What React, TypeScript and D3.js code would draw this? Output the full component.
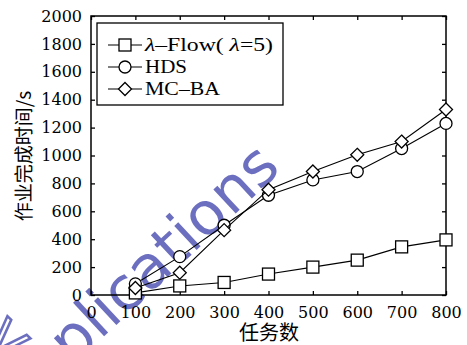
import * as React from 'react';
import * as d3 from 'd3';

const taskCounts = [100, 200, 300, 400, 500, 600, 700, 800];
const flowTimes = [15, 65, 90, 150, 200, 250, 345, 395];
const hdsTimes = [80, 275, 500, 715, 825, 885, 1050, 1230];
const mcbaTimes = [50, 160, 465, 755, 885, 1005, 1100, 1330];
const xTicks = [0, 100, 200, 300, 400, 500, 600, 700, 800];
const yTicks = [0, 200, 400, 600, 800, 1000, 1200, 1400, 1600, 1800, 2000];
const seriesNames = ['λ–Flow( λ=5)', 'HDS', 'MC–BA'];
const seriesShapes = ['square', 'circle', 'diamond'];

const W = 467, H = 345;
const margin = { left: 91, right: 21, top: 16, bottom: 50 };
const numFont = '"DejaVu Serif", serif';
const wmColor = '#5357b4';

function drawMarker(g, shape, x, y) {
    if (shape === 'square') {
        g.append('rect').attr('x', x - 6).attr('y', y - 6).attr('width', 12).attr('height', 12)
            .attr('fill', 'white').attr('stroke', 'black').attr('stroke-width', 1.3);
    } else if (shape === 'circle') {
        g.append('circle').attr('cx', x).attr('cy', y).attr('r', 6)
            .attr('fill', 'white').attr('stroke', 'black').attr('stroke-width', 1.3);
    } else {
        g.append('path').attr('d', `M${x},${y - 6.5}L${x + 6.5},${y}L${x},${y + 6.5}L${x - 6.5},${y}Z`)
            .attr('fill', 'white').attr('stroke', 'black').attr('stroke-width', 1.3);
    }
}

export default function App() {
    const ref = React.useRef<SVGSVGElement>(null);

    React.useEffect(() => {
        const svg = d3.select(ref.current);
        svg.selectAll('*').remove();

        const x = d3.scaleLinear().domain([0, 800]).range([margin.left, W - margin.right]);
        const y = d3.scaleLinear().domain([0, 2000]).range([H - margin.bottom, margin.top]);
        const x0 = x.range()[0], x1 = x.range()[1], y0 = y.range()[0], y1 = y.range()[1];

        // watermark (behind the chart)
        const wm = svg.append('g').attr('transform', 'translate(100,340) rotate(-43)').attr('opacity', 0.85)
            .attr('font-family', '"DejaVu Sans", sans-serif').attr('font-size', 60);
        wm.append('text').attr('x', 0).attr('y', 0).attr('text-anchor', 'end').attr('fill', wmColor).text('Ap');
        wm.append('text').attr('x', 0).attr('y', 0).attr('fill', wmColor).text('lications');
        svg.append('text').attr('transform', 'translate(2,372) rotate(-46)')
            .attr('font-family', '"DejaVu Sans", sans-serif').attr('font-size', 60)
            .attr('fill', 'none').attr('stroke', wmColor).attr('stroke-width', 2.5).attr('opacity', 0.85)
            .text('<');

        // frame
        svg.append('rect').attr('x', x0).attr('y', y1).attr('width', x1 - x0).attr('height', y0 - y1)
            .attr('fill', 'none').attr('stroke', 'black').attr('stroke-width', 1.5);

        const axB = d3.axisBottom(x).tickValues(xTicks).tickSize(-4).tickPadding(12).tickFormat(d3.format('d'));
        const axT = d3.axisTop(x).tickValues(xTicks).tickSize(-4).tickFormat(() => '');
        const axL = d3.axisLeft(y).tickValues(yTicks).tickSize(-4).tickPadding(9).tickFormat(d3.format('d'));
        const axR = d3.axisRight(y).tickValues(yTicks).tickSize(-4).tickFormat(() => '');

        const styleAxis = (g) => {
            g.select('.domain').remove();
            g.selectAll('line').attr('stroke', 'black').attr('stroke-width', 1.3);
            g.selectAll('text').attr('font-family', numFont).attr('font-size', 16).attr('fill', 'black');
        };
        svg.append('g').attr('transform', `translate(0,${y0})`).call(axB).call(styleAxis);
        svg.append('g').attr('transform', `translate(0,${y1})`).call(axT).call(styleAxis);
        svg.append('g').attr('transform', `translate(${x0},0)`).call(axL).call(styleAxis);
        svg.append('g').attr('transform', `translate(${x1},0)`).call(axR).call(styleAxis);

        // series
        const allSeries = [flowTimes, hdsTimes, mcbaTimes];
        const line = d3.line<number>().x((d, i) => x(taskCounts[i])).y(d => y(d));
        allSeries.forEach((vals, si) => {
            const g = svg.append('g');
            g.append('path').attr('d', line(vals)).attr('fill', 'none').attr('stroke', 'black').attr('stroke-width', 1.1);
            vals.forEach((v, i) => drawMarker(g, seriesShapes[si], x(taskCounts[i]), y(v)));
        });

        // legend
        const lg = svg.append('g');
        lg.append('rect').attr('x', 97).attr('y', 23).attr('width', 186).attr('height', 82)
            .attr('fill', 'white').attr('stroke', 'black').attr('stroke-width', 1.3);
        const lens = [128, 42, 75];
        seriesNames.forEach((name, i) => {
            const ly = 45 + i * 22;
            lg.append('line').attr('x1', 108).attr('x2', 142).attr('y1', ly).attr('y2', ly)
                .attr('stroke', 'black').attr('stroke-width', 1.1);
            drawMarker(lg, seriesShapes[i], 125, ly);
            const t = lg.append('text').attr('x', 145).attr('y', ly + 6)
                .attr('font-family', '"Liberation Serif", serif').attr('font-size', 18).attr('fill', 'black')
                .attr('textLength', lens[i]).attr('lengthAdjust', 'spacingAndGlyphs');
            if (i === 0) {
                t.append('tspan').attr('font-style', 'italic').text('λ');
                t.append('tspan').text('–Flow( ');
                t.append('tspan').attr('font-style', 'italic').text('λ');
                t.append('tspan').text('=5)');
            } else {
                t.text(name);
            }
        });

        // axis titles
        svg.append('text').attr('x', (x0 + x1) / 2 + 0.5).attr('y', 340).attr('text-anchor', 'middle')
            .attr('font-family', '"Noto Sans CJK SC", sans-serif').attr('font-size', 20).attr('fill', 'black')
            .text('任务数');
        svg.append('text').attr('transform', 'translate(31,156) rotate(-90)').attr('text-anchor', 'middle')
            .attr('font-family', '"Noto Sans CJK SC", sans-serif').attr('font-size', 19).attr('fill', 'black')
            .text('作业完成时间/s');
    }, []);

    return (
        <svg ref={ref} width={W} height={H} style={{ position: 'absolute', left: 0, top: 0, background: 'white' }} />
    );
}
